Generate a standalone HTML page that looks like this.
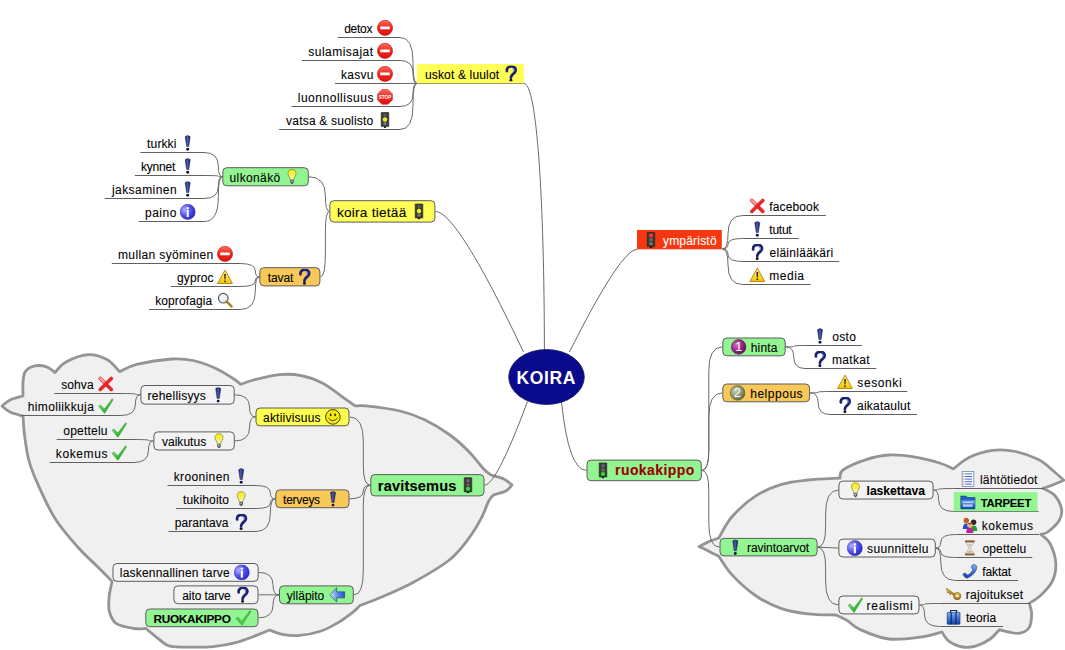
<!DOCTYPE html>
<html><head><meta charset="utf-8"><style>
html,body{margin:0;padding:0;background:#fff;width:1065px;height:650px;overflow:hidden}
svg{display:block;font-family:"Liberation Sans",sans-serif}
</style></head><body>
<svg width="1065" height="650" viewBox="0 0 1065 650">
<defs>
<linearGradient id="gRed" x1="0" y1="0" x2="0" y2="1"><stop offset="0" stop-color="#ff6a5a"/><stop offset="0.5" stop-color="#ec2a1e"/><stop offset="1" stop-color="#e01010"/></linearGradient>
<linearGradient id="gNavy" x1="0" y1="0" x2="1" y2="0"><stop offset="0" stop-color="#142060"/><stop offset="0.45" stop-color="#5060a8"/><stop offset="1" stop-color="#101850"/></linearGradient>
<radialGradient id="gInfo" cx="0.3" cy="0.35" r="0.8"><stop offset="0" stop-color="#b0b0ff"/><stop offset="0.5" stop-color="#5050f0"/><stop offset="1" stop-color="#2020c0"/></radialGradient>
<linearGradient id="gBulb" x1="0" y1="0" x2="0" y2="1"><stop offset="0" stop-color="#f8f000"/><stop offset="0.55" stop-color="#f8f060"/><stop offset="1" stop-color="#fff8c0"/></linearGradient>
<linearGradient id="gWarn" x1="0" y1="0" x2="0" y2="1"><stop offset="0" stop-color="#fff080"/><stop offset="1" stop-color="#f0c800"/></linearGradient>
<linearGradient id="gCheck" x1="0" y1="0" x2="1" y2="1"><stop offset="0" stop-color="#a0f0a0"/><stop offset="0.6" stop-color="#30c030"/><stop offset="1" stop-color="#109010"/></linearGradient>
<linearGradient id="gArrow" x1="0" y1="0" x2="1" y2="0"><stop offset="0" stop-color="#d0f0ff"/><stop offset="0.5" stop-color="#6090e0"/><stop offset="1" stop-color="#2050d0"/></linearGradient>
<radialGradient id="gNum1" cx="0.35" cy="0.35" r="0.75"><stop offset="0" stop-color="#d070c0"/><stop offset="0.6" stop-color="#902080"/><stop offset="1" stop-color="#601050"/></radialGradient>
<radialGradient id="gNum2" cx="0.35" cy="0.35" r="0.75"><stop offset="0" stop-color="#c8d0b8"/><stop offset="0.6" stop-color="#8a9070"/><stop offset="1" stop-color="#5a6048"/></radialGradient>
<linearGradient id="gBlue" x1="0" y1="0" x2="0" y2="1"><stop offset="0" stop-color="#80b0f0"/><stop offset="1" stop-color="#1040b0"/></linearGradient>
<linearGradient id="gGold" x1="0" y1="0" x2="0" y2="1"><stop offset="0" stop-color="#f0d060"/><stop offset="1" stop-color="#a07010"/></linearGradient>

<symbol id="noentry" viewBox="0 0 16 16"><circle cx="8" cy="8" r="7.6" fill="url(#gRed)" stroke="#c81810" stroke-width="0.6"/><rect x="3.2" y="6.6" width="9.6" height="2.8" rx="0.5" fill="#fff"/></symbol>
<symbol id="stop" viewBox="0 0 16 16"><polygon points="5,0.6 11,0.6 15.4,5 15.4,11 11,15.4 5,15.4 0.6,11 0.6,5" fill="url(#gRed)" stroke="#c01010" stroke-width="0.5"/><text x="8" y="9.8" font-family="Liberation Sans" font-weight="bold" font-size="4.6" fill="#fff" text-anchor="middle">STOP</text></symbol>
<symbol id="tlY" viewBox="0 0 16 16"><rect x="4.2" y="0.3" width="7.6" height="14.4" rx="0.6" fill="#3a3a38" stroke="#222" stroke-width="0.6"/><circle cx="8" cy="3.4" r="1.7" fill="#5a5a50"/><circle cx="8" cy="7.6" r="2.2" fill="#f0f020"/><circle cx="8" cy="11.6" r="1.7" fill="#7a7a70"/><rect x="7" y="14.6" width="2" height="1.4" fill="#111"/></symbol>
<symbol id="tlR" viewBox="0 0 16 16"><rect x="4.2" y="0.3" width="7.6" height="14.4" rx="0.6" fill="#3a3a38" stroke="#222" stroke-width="0.6"/><circle cx="8" cy="3.6" r="2.1" fill="#ff3030"/><circle cx="8" cy="7.6" r="1.7" fill="#6a6a60"/><circle cx="8" cy="11.6" r="1.7" fill="#7a7a70"/><rect x="7" y="14.6" width="2" height="1.4" fill="#111"/></symbol>
<symbol id="tlG" viewBox="0 0 16 16"><rect x="4.2" y="0.3" width="7.6" height="14.4" rx="0.6" fill="#3a3a38" stroke="#222" stroke-width="0.6"/><circle cx="8" cy="3.4" r="1.7" fill="#7a5a8a"/><circle cx="8" cy="7.6" r="1.7" fill="#6a6a60"/><circle cx="8" cy="11.6" r="2.1" fill="#30e030"/><rect x="7" y="14.6" width="2" height="1.4" fill="#111"/></symbol>
<symbol id="excl" viewBox="0 0 16 16"><path d="M5.5,1.8 Q8,-0.4 10.5,1.8 L9.1,11.6 L6.9,11.6 Z" fill="url(#gNavy)" stroke="#101c50" stroke-width="0.5"/><circle cx="8" cy="14.3" r="1.45" fill="#0c1444"/></symbol>
<symbol id="quest" viewBox="0 0 16 16"><path d="M3.9,5.6 C3.4,2.6 5.6,0.9 8.3,0.9 C11.3,0.9 12.9,2.7 12.7,4.9 C12.5,7.1 10.2,8.1 9,9.6 C8.3,10.5 8,11.3 7.9,12.2" fill="none" stroke="#1c2470" stroke-width="2.7" stroke-linecap="round"/><path d="M9.6,2.6 C11,3.2 11.4,4.6 10.6,6" fill="none" stroke="#6a7ad8" stroke-width="1.1" stroke-linecap="round"/><circle cx="7.9" cy="14.7" r="1.45" fill="#0c1030"/></symbol>
<symbol id="info" viewBox="0 0 16 16"><circle cx="8" cy="8" r="7.6" fill="url(#gInfo)" stroke="#3030a0" stroke-width="0.5"/><rect x="7" y="6.2" width="2.1" height="7" fill="#fff"/><circle cx="8.05" cy="4.2" r="1.2" fill="#fff"/></symbol>
<symbol id="bulb" viewBox="0 0 16 16"><path d="M8,0.8 C4.6,0.8 3.6,3.6 4.2,5.8 C4.8,7.8 6.2,9 6.3,11 L9.7,11 C9.8,9 11.2,7.8 11.8,5.8 C12.4,3.6 11.4,0.8 8,0.8 Z" fill="url(#gBulb)" stroke="#6a6a20" stroke-width="0.6"/><rect x="6.2" y="11.2" width="3.6" height="3" rx="0.5" fill="#505860"/><rect x="7.2" y="12" width="1.4" height="1.4" fill="#c8d0d8"/><rect x="7.2" y="14.2" width="1.6" height="0.9" fill="#303030"/></symbol>
<symbol id="warn" viewBox="0 0 16 16"><path d="M8,1.2 L15.4,14.6 L0.6,14.6 Z" fill="url(#gWarn)" stroke="#c07810" stroke-width="0.9" stroke-linejoin="round"/><path d="M7.2,5 L8.8,5 L8.5,10.6 L7.5,10.6 Z" fill="#2a2010"/><circle cx="8" cy="12.4" r="0.9" fill="#2a2010"/></symbol>
<symbol id="magn" viewBox="0 0 16 16"><circle cx="6.3" cy="6.3" r="4.8" fill="#f4f8f8" stroke="#505860" stroke-width="1.2"/><path d="M9.3,8.6 Q7.5,9.6 5.6,9" stroke="#a8c8b0" stroke-width="0.8" fill="none"/><line x1="9.8" y1="9.8" x2="14.6" y2="14.6" stroke="#b07820" stroke-width="2.4" stroke-linecap="round"/></symbol>
<symbol id="redx" viewBox="0 0 16 16"><path d="M2.5,2.5 L13.5,13.5 M13.5,2.5 L2.5,13.5" stroke="#e82828" stroke-width="3.6" stroke-linecap="round"/><path d="M2.5,2.5 L6,6" stroke="#f8a0a0" stroke-width="2.4" stroke-linecap="round"/></symbol>
<symbol id="check" viewBox="0 0 16 16"><path d="M0.8,8.4 L2.8,7 L6.6,11 L14.4,0.8 L15.4,1.8 L7,15.2 L6.4,15.2 Z" fill="url(#gCheck)" stroke="#208020" stroke-width="0.4"/></symbol>
<symbol id="smile" viewBox="0 0 16 16"><circle cx="8" cy="8" r="7.3" fill="#f4ec10" stroke="#4a3a00" stroke-width="1"/><ellipse cx="5.8" cy="6" rx="0.9" ry="1.4" fill="#3a2000"/><ellipse cx="10.2" cy="6" rx="0.9" ry="1.4" fill="#3a2000"/><path d="M3.6,9.2 Q8,14.4 12.4,9.2" stroke="#3a2a00" stroke-width="0.9" fill="none"/></symbol>
<symbol id="arrowL" viewBox="0 0 16 16"><path d="M0.6,8 L7.4,0.8 L7.4,5 L15.4,5 L15.4,11 L7.4,11 L7.4,15.2 Z" fill="url(#gArrow)" stroke="#205070" stroke-width="0.7" stroke-linejoin="round"/></symbol>
<symbol id="num1" viewBox="0 0 16 16"><circle cx="8" cy="8" r="7.3" fill="url(#gNum1)" stroke="#501048" stroke-width="0.6"/><text x="8" y="12.4" font-family="Liberation Sans" font-size="12.5" fill="#fff" text-anchor="middle">1</text></symbol>
<symbol id="num2" viewBox="0 0 16 16"><circle cx="8" cy="8" r="7.3" fill="url(#gNum2)" stroke="#484c38" stroke-width="0.6"/><text x="8" y="12.4" font-family="Liberation Sans" font-size="12.5" fill="#fff" text-anchor="middle">2</text></symbol>
<symbol id="listdoc" viewBox="0 0 16 16"><rect x="2.2" y="0.5" width="11.6" height="15" fill="#fff" stroke="#7890b8" stroke-width="0.9"/><g stroke="#3868d0" stroke-width="1"><line x1="5.2" y1="3" x2="12" y2="3"/><line x1="5.2" y1="5.6" x2="12" y2="5.6"/><line x1="5.2" y1="8.2" x2="12" y2="8.2"/><line x1="5.2" y1="10.8" x2="12" y2="10.8"/><line x1="5.2" y1="13.2" x2="12" y2="13.2"/></g><g fill="#d03030"><rect x="3.4" y="2.5" width="1" height="1"/><rect x="3.4" y="5.1" width="1" height="1"/><rect x="3.4" y="7.7" width="1" height="1"/><rect x="3.4" y="10.3" width="1" height="1"/><rect x="3.4" y="12.7" width="1" height="1"/></g></symbol>
<symbol id="folder" viewBox="0 0 16 16"><path d="M0.8,2.2 L6,2.2 L7.2,3.6 L15,3.6 L15,15 L0.8,15 Z" fill="#2860c0" stroke="#103880" stroke-width="0.6"/><path d="M1.4,6.5 L15.2,6.5 L14.6,14.6 L1.4,14.6 Z" fill="url(#gBlue)"/><path d="M3,8.4 L13,8.4" stroke="#d0e8ff" stroke-width="1"/><rect x="3" y="10.6" width="9.5" height="2.2" fill="#e0f0ff" opacity="0.8"/></symbol>
<symbol id="people" viewBox="0 0 16 16"><circle cx="4.5" cy="3.6" r="2.7" fill="#c06020"/><path d="M1,12 Q1,6.5 4.5,6.5 Q8,6.5 8,12 Z" fill="#2050d0"/><circle cx="11.8" cy="5.4" r="2.7" fill="#302828"/><path d="M8.4,14 Q8.4,8.6 11.8,8.6 Q15.4,8.6 15.4,14 Z" fill="#20a030"/><circle cx="8" cy="8.2" r="2.7" fill="#f0b080"/><path d="M4.4,16 Q4.4,10.8 8,10.8 Q11.6,10.8 11.6,16 Z" fill="#c020a0"/><path d="M5.4,7.4 Q8,4.2 10.6,7.4" fill="#c02020"/></symbol>
<symbol id="hourglass" viewBox="0 0 16 16"><rect x="3.2" y="0.5" width="9.6" height="2" fill="#8a5a20"/><rect x="3.2" y="13.5" width="9.6" height="2" fill="#8a5a20"/><path d="M4.4,2.5 L11.6,2.5 L11.6,3.4 L8.6,8 L11.6,12.6 L11.6,13.5 L4.4,13.5 L4.4,12.6 L7.4,8 L4.4,3.4 Z" fill="#e8ecf0" stroke="#808890" stroke-width="0.5"/><path d="M5.4,12.8 L10.6,12.8 L8,10.2 Z" fill="#d8b060"/><path d="M6.2,4.4 L9.8,4.4 L8,6.8 Z" fill="#d8b060"/></symbol>
<symbol id="phone" viewBox="0 0 16 16"><path d="M1.2,12.2 Q0.8,10.2 3.2,10 L6,12.2 Q9.6,10.4 11,6.8 L9.4,4.2 Q10,1.6 12.4,1.4 L15.2,3.6 Q14.6,10.8 5.8,15.2 Q3.2,15.6 1.2,12.2 Z" fill="url(#gBlue)" stroke="#0a3080" stroke-width="0.5"/></symbol>
<symbol id="key" viewBox="0 0 16 16"><circle cx="11.6" cy="10.2" r="3.6" fill="url(#gGold)" stroke="#7a5008" stroke-width="0.7"/><circle cx="11.6" cy="10.2" r="1.3" fill="#f0f0f0"/><path d="M1,2.2 L9,8 L8,9.4 L5.6,7.6 L4.8,8.8 L3.6,7.8 L4.4,6.8 L3.4,6.1 L2.6,7.1 L1.4,6.2 L2.2,5.2 L0.2,3.6 Z" fill="url(#gGold)" stroke="#7a5008" stroke-width="0.5"/></symbol>
<symbol id="brief" viewBox="0 0 16 16"><path d="M5,3.4 L5,1.6 L11,1.6 L11,3.4" stroke="#102a60" stroke-width="1.2" fill="none"/><rect x="1.6" y="3.4" width="12.8" height="12" rx="0.8" fill="url(#gBlue)" stroke="#0c2a6a" stroke-width="0.6"/><rect x="5" y="3.4" width="1.2" height="12" fill="#0c2a6a"/><rect x="9.8" y="3.4" width="1.2" height="12" fill="#0c2a6a"/></symbol>
<symbol id="check2" viewBox="0 0 16 16"><path d="M0.8,8.6 L2.6,7.4 L6.4,11.6 L14.8,0.6 L15.6,1.4 L6.8,15.4 Z" fill="#50d050" stroke="#208a20" stroke-width="0.5"/></symbol></defs>
<path d="M2.00,406.00 C3.33,405.00 6.50,401.67 10.00,400.00 C13.50,398.33 20.83,396.67 23.00,396.00 C23.00,393.67 22.67,386.00 23.00,382.00 C23.33,378.00 23.67,374.50 25.00,372.00 C26.33,369.50 28.50,368.08 31.00,367.00 C33.50,365.92 37.17,365.42 40.00,365.50 C42.83,365.58 45.50,366.33 48.00,367.50 C50.50,368.67 53.83,371.67 55.00,372.50 C56.83,370.75 60.50,364.98 66.00,362.00 C71.50,359.02 81.17,355.02 88.00,354.60 C94.83,354.18 101.73,356.65 107.00,359.50 C112.27,362.35 117.50,369.67 119.60,371.70 C122.45,370.48 128.03,366.52 136.70,364.40 C145.37,362.28 162.18,359.65 171.60,359.00 C181.02,358.35 186.00,359.00 193.20,360.50 C200.40,362.00 208.33,365.12 214.80,368.00 C221.27,370.88 227.68,375.08 232.00,377.80 C236.32,380.52 239.25,383.22 240.70,384.30 C242.87,383.58 247.22,381.62 253.70,380.00 C260.18,378.38 271.68,375.33 279.60,374.60 C287.52,373.87 294.00,374.17 301.20,375.60 C308.40,377.03 315.60,379.42 322.80,383.20 C330.00,386.98 339.00,394.52 344.40,398.30 C349.80,402.08 353.40,404.63 355.20,405.90 C357.00,405.90 358.53,405.05 366.00,405.90 C373.47,406.75 390.23,408.70 400.00,411.00 C409.77,413.30 416.38,415.78 424.60,419.70 C432.82,423.62 441.90,429.17 449.30,434.50 C456.70,439.83 463.27,445.95 469.00,451.70 C474.73,457.45 480.03,465.12 483.70,469.00 C487.37,472.88 489.78,474.00 491.00,475.00 C493.07,475.63 499.90,477.13 503.40,478.80 C506.90,480.47 510.57,483.97 512.00,485.00 C511.00,486.00 509.07,489.37 506.00,491.00 C502.93,492.63 495.67,494.17 493.60,494.80 C492.78,495.83 490.75,497.10 488.70,501.00 C486.65,504.90 484.58,512.03 481.30,518.20 C478.02,524.37 474.33,531.03 469.00,538.00 C463.67,544.97 458.55,552.63 449.30,560.00 C440.05,567.37 424.78,576.03 413.50,582.20 C402.22,588.37 390.52,593.12 381.60,597.00 C372.68,600.88 363.60,604.08 360.00,605.50 C358.93,606.52 357.18,608.78 353.60,611.60 C350.02,614.42 343.90,619.17 338.50,622.40 C333.10,625.63 327.68,628.83 321.20,631.00 C314.72,633.17 306.08,634.85 299.60,635.40 C293.12,635.95 287.33,635.20 282.30,634.30 C277.27,633.40 271.55,630.72 269.40,630.00 C267.23,630.90 262.17,633.25 256.40,635.40 C250.63,637.55 242.00,641.03 234.80,642.90 C227.60,644.77 220.40,645.88 213.20,646.60 C206.00,647.32 198.80,647.27 191.60,647.20 C184.40,647.13 175.27,647.40 170.00,646.20 C164.73,645.00 164.00,642.95 160.00,640.00 C156.00,637.05 148.33,630.42 146.00,628.50 C144.00,628.50 138.93,629.32 134.00,628.50 C129.07,627.68 120.48,626.35 116.40,623.60 C112.32,620.85 110.73,616.27 109.50,612.00 C108.27,607.73 108.58,603.12 109.00,598.00 C109.42,592.88 111.50,584.08 112.00,581.30 C109.82,579.08 104.50,573.60 98.90,568.00 C93.30,562.40 85.72,555.97 78.40,547.70 C71.08,539.43 61.82,529.12 55.00,518.40 C48.18,507.68 41.87,493.13 37.50,483.40 C33.13,473.67 30.97,468.07 28.80,460.00 C26.63,451.93 25.47,442.33 24.50,435.00 C23.53,427.67 23.25,419.17 23.00,416.00 C20.83,415.33 13.50,413.67 10.00,412.00 C6.50,410.33 3.33,407.00 2.00,406.00 Z" fill="#f0f0f0" stroke="#949494" stroke-width="2.8" stroke-linejoin="round"/>
<path d="M699.00,546.50 C700.55,545.73 705.00,543.32 708.30,541.90 C711.60,540.48 717.05,538.65 718.80,538.00 C720.97,534.50 725.70,523.97 731.80,517.00 C737.90,510.03 747.12,501.63 755.40,496.20 C763.68,490.77 772.78,487.10 781.50,484.40 C790.22,481.70 797.95,481.07 807.70,480.00 C817.45,478.93 834.62,478.33 840.00,478.00 C840.50,476.67 838.67,473.07 843.00,470.00 C847.33,466.93 858.33,462.10 866.00,459.60 C873.67,457.10 880.57,455.38 889.00,455.00 C897.43,454.62 908.17,455.97 916.60,457.30 C925.03,458.63 933.47,461.08 939.60,463.00 C945.73,464.92 951.10,467.83 953.40,468.80 C956.08,466.88 962.98,460.37 969.50,457.30 C976.02,454.23 984.83,451.37 992.50,450.40 C1000.17,449.43 1007.83,449.97 1015.50,451.50 C1023.17,453.03 1032.37,456.52 1038.50,459.60 C1044.63,462.68 1048.08,466.55 1052.30,470.00 C1056.52,473.45 1061.88,478.58 1063.80,480.30 C1061.50,481.25 1053.47,484.67 1050.00,486.00 C1046.53,487.33 1044.17,487.92 1043.00,488.30 C1044.93,489.45 1051.52,491.75 1054.60,495.20 C1057.68,498.65 1060.73,504.78 1061.50,509.00 C1062.27,513.22 1061.50,516.67 1059.20,520.50 C1056.90,524.33 1050.77,529.70 1047.70,532.00 C1044.63,534.30 1041.95,533.92 1040.80,534.30 C1042.33,535.83 1047.50,538.72 1050.00,543.50 C1052.50,548.28 1055.42,556.68 1055.80,563.00 C1056.18,569.32 1054.80,576.03 1052.30,581.40 C1049.80,586.77 1044.63,591.55 1040.80,595.20 C1036.97,598.85 1031.22,601.95 1029.30,603.30 C1029.68,605.02 1031.60,609.58 1031.60,613.60 C1031.60,617.62 1031.23,624.13 1029.30,627.40 C1027.37,630.67 1023.45,632.43 1020.00,633.20 C1016.55,633.97 1012.03,632.58 1008.60,632.00 C1005.17,631.42 1000.93,630.08 999.40,629.70 C997.87,631.25 994.03,636.32 990.20,639.00 C986.37,641.68 981.00,644.47 976.40,645.80 C971.80,647.13 967.20,647.77 962.60,647.00 C958.00,646.23 952.23,643.70 948.80,641.20 C945.37,638.70 943.13,633.53 942.00,632.00 C938.92,632.77 932.33,635.43 923.50,636.60 C914.67,637.77 899.58,640.18 889.00,639.00 C878.42,637.82 867.00,632.60 860.00,629.50 C853.00,626.40 851.00,622.82 847.00,620.40 C843.00,617.98 837.83,615.90 836.00,615.00 C831.28,614.80 816.78,614.87 807.70,613.80 C798.62,612.73 790.22,611.65 781.50,608.60 C772.78,605.55 763.68,601.17 755.40,595.50 C747.12,589.83 737.90,581.13 731.80,574.60 C725.70,568.07 720.97,559.35 718.80,556.30 C717.05,555.42 711.60,552.63 708.30,551.00 C705.00,549.37 700.55,547.25 699.00,546.50 Z" fill="#f0f0f0" stroke="#949494" stroke-width="2.8" stroke-linejoin="round"/>
<path d="M417.00,83.50 H524.00" stroke="#606060" fill="none"/>
<path d="M337.70,37.50 H400.00" stroke="#606060" fill="none"/>
<path d="M417.00,83.40 Q413.00,83.40 413.00,63.40 L413.00,61.50 Q413.00,37.50 400.00,37.50" stroke="#6a6a6a" fill="none"/>
<path d="M301.70,60.50 H400.00" stroke="#606060" fill="none"/>
<path d="M417.00,83.40 Q413.00,83.40 413.00,73.09 L413.00,73.09 Q413.00,60.50 400.00,60.50" stroke="#6a6a6a" fill="none"/>
<path d="M334.90,83.50 H400.00" stroke="#606060" fill="none"/>
<path d="M417.00,83.40 L400.00,83.50" stroke="#6a6a6a" fill="none"/>
<path d="M291.50,106.50 H400.00" stroke="#606060" fill="none"/>
<path d="M417.00,83.40 Q413.00,83.40 413.00,93.80 L413.00,93.80 Q413.00,106.50 400.00,106.50" stroke="#6a6a6a" fill="none"/>
<path d="M279.10,129.50 H400.00" stroke="#606060" fill="none"/>
<path d="M417.00,83.40 Q413.00,83.40 413.00,103.40 L413.00,105.50 Q413.00,129.50 400.00,129.50" stroke="#6a6a6a" fill="none"/>
<path d="M329.40,211.40 Q325.40,211.40 325.40,195.81 L325.40,195.81 Q325.40,176.75 308.80,176.75" stroke="#6a6a6a" fill="none"/>
<path d="M329.40,211.40 Q325.40,211.40 325.40,231.40 L325.40,252.80 Q325.40,276.80 320.40,276.80" stroke="#6a6a6a" fill="none"/>
<path d="M140.30,152.50 H204.00" stroke="#606060" fill="none"/>
<path d="M222.30,176.75 Q218.30,176.75 218.30,165.84 L218.30,165.84 Q218.30,152.50 204.00,152.50" stroke="#6a6a6a" fill="none"/>
<path d="M134.80,175.50 H204.00" stroke="#606060" fill="none"/>
<path d="M222.30,176.75 Q218.30,176.75 218.30,176.19 L218.30,176.19 Q218.30,175.50 204.00,175.50" stroke="#6a6a6a" fill="none"/>
<path d="M104.60,198.50 H204.00" stroke="#606060" fill="none"/>
<path d="M222.30,176.75 Q218.30,176.75 218.30,186.54 L218.30,186.54 Q218.30,198.50 204.00,198.50" stroke="#6a6a6a" fill="none"/>
<path d="M138.70,221.50 H204.00" stroke="#606060" fill="none"/>
<path d="M222.30,176.75 Q218.30,176.75 218.30,196.75 L218.30,197.50 Q218.30,221.50 204.00,221.50" stroke="#6a6a6a" fill="none"/>
<path d="M111.80,263.50 H240.00" stroke="#606060" fill="none"/>
<path d="M259.30,276.80 Q255.30,276.80 255.30,270.81 L255.30,270.81 Q255.30,263.50 240.00,263.50" stroke="#6a6a6a" fill="none"/>
<path d="M170.60,286.50 H240.00" stroke="#606060" fill="none"/>
<path d="M259.30,276.80 Q255.30,276.80 255.30,281.16 L255.30,281.16 Q255.30,286.50 240.00,286.50" stroke="#6a6a6a" fill="none"/>
<path d="M149.00,309.50 H240.00" stroke="#606060" fill="none"/>
<path d="M259.30,276.80 Q255.30,276.80 255.30,291.51 L255.30,291.51 Q255.30,309.50 240.00,309.50" stroke="#6a6a6a" fill="none"/>
<path d="M742.50,215.50 H825.80" stroke="#606060" fill="none"/>
<path d="M722.50,249.00 Q728.00,249.00 728.00,233.93 L728.00,233.93 Q728.00,215.50 742.50,215.50" stroke="#6a6a6a" fill="none"/>
<path d="M742.50,238.50 H798.80" stroke="#606060" fill="none"/>
<path d="M722.50,249.00 Q728.00,249.00 728.00,244.28 L728.00,244.28 Q728.00,238.50 742.50,238.50" stroke="#6a6a6a" fill="none"/>
<path d="M742.50,261.50 H839.20" stroke="#606060" fill="none"/>
<path d="M722.50,249.00 Q728.00,249.00 728.00,254.62 L728.00,254.62 Q728.00,261.50 742.50,261.50" stroke="#6a6a6a" fill="none"/>
<path d="M742.50,284.50 H810.60" stroke="#606060" fill="none"/>
<path d="M722.50,249.00 Q728.00,249.00 728.00,264.98 L728.00,264.98 Q728.00,284.50 742.50,284.50" stroke="#6a6a6a" fill="none"/>
<path d="M701.80,470.40 Q708.80,470.40 708.80,450.40 L708.80,370.90 Q708.80,346.90 722.30,346.90" stroke="#6a6a6a" fill="none"/>
<path d="M701.80,470.40 Q708.80,470.40 708.80,450.40 L708.80,416.90 Q708.80,392.90 722.30,392.90" stroke="#6a6a6a" fill="none"/>
<path d="M701.80,470.40 Q708.80,470.40 708.80,490.40 L708.80,523.15 Q708.80,547.15 719.50,547.15" stroke="#6a6a6a" fill="none"/>
<path d="M805.00,345.50 H862.20" stroke="#606060" fill="none"/>
<path d="M785.70,346.90 Q793.70,346.90 793.70,346.27 L793.70,346.27 Q793.70,345.50 805.00,345.50" stroke="#6a6a6a" fill="none"/>
<path d="M805.00,368.50 H876.30" stroke="#606060" fill="none"/>
<path d="M785.70,346.90 Q793.70,346.90 793.70,356.62 L793.70,356.62 Q793.70,368.50 805.00,368.50" stroke="#6a6a6a" fill="none"/>
<path d="M830.00,391.50 H907.30" stroke="#606060" fill="none"/>
<path d="M810.10,392.90 Q818.10,392.90 818.10,392.27 L818.10,392.27 Q818.10,391.50 830.00,391.50" stroke="#6a6a6a" fill="none"/>
<path d="M830.00,414.50 H917.00" stroke="#606060" fill="none"/>
<path d="M810.10,392.90 Q818.10,392.90 818.10,402.62 L818.10,402.62 Q818.10,414.50 830.00,414.50" stroke="#6a6a6a" fill="none"/>
<path d="M817.60,547.15 Q825.60,547.15 825.60,527.15 L825.60,514.05 Q825.60,490.05 838.40,490.05" stroke="#6a6a6a" fill="none"/>
<path d="M817.60,547.15 L838.40,548.05" stroke="#6a6a6a" fill="none"/>
<path d="M817.60,547.15 Q825.60,547.15 825.60,567.15 L825.60,580.95 Q825.60,604.95 838.40,604.95" stroke="#6a6a6a" fill="none"/>
<path d="M953.70,488.50 H1044.10" stroke="#606060" fill="none"/>
<path d="M933.60,490.05 Q938.60,490.05 938.60,489.35 L938.60,489.35 Q938.60,488.50 953.70,488.50" stroke="#6a6a6a" fill="none"/>
<path d="M953.70,511.50 H1038.50" stroke="#606060" fill="none"/>
<path d="M933.60,490.05 Q938.60,490.05 938.60,499.70 L938.60,499.70 Q938.60,511.50 953.70,511.50" stroke="#6a6a6a" fill="none"/>
<path d="M955.50,534.50 H1039.10" stroke="#606060" fill="none"/>
<path d="M935.80,548.05 Q940.80,548.05 940.80,541.95 L940.80,541.95 Q940.80,534.50 955.50,534.50" stroke="#6a6a6a" fill="none"/>
<path d="M955.50,557.50 H1032.30" stroke="#606060" fill="none"/>
<path d="M935.80,548.05 Q940.80,548.05 940.80,552.30 L940.80,552.30 Q940.80,557.50 955.50,557.50" stroke="#6a6a6a" fill="none"/>
<path d="M955.50,580.50 H1018.10" stroke="#606060" fill="none"/>
<path d="M935.80,548.05 Q940.80,548.05 940.80,562.65 L940.80,562.65 Q940.80,580.50 955.50,580.50" stroke="#6a6a6a" fill="none"/>
<path d="M939.50,603.50 H1029.80" stroke="#606060" fill="none"/>
<path d="M919.50,604.95 Q924.50,604.95 924.50,604.30 L924.50,604.30 Q924.50,603.50 939.50,603.50" stroke="#6a6a6a" fill="none"/>
<path d="M939.50,626.50 H1003.10" stroke="#606060" fill="none"/>
<path d="M919.50,604.95 Q924.50,604.95 924.50,614.65 L924.50,614.65 Q924.50,626.50 939.50,626.50" stroke="#6a6a6a" fill="none"/>
<path d="M370.30,485.25 Q363.30,485.25 363.30,465.25 L363.30,440.90 Q363.30,416.90 349.50,416.90" stroke="#6a6a6a" fill="none"/>
<path d="M370.30,485.25 Q363.30,485.25 363.30,491.35 L363.30,491.35 Q363.30,498.80 349.50,498.80" stroke="#6a6a6a" fill="none"/>
<path d="M370.30,485.25 Q363.30,485.25 363.30,505.25 L363.30,570.85 Q363.30,594.85 353.80,594.85" stroke="#6a6a6a" fill="none"/>
<path d="M255.50,416.90 Q249.50,416.90 249.50,406.95 L249.50,406.95 Q249.50,394.80 234.70,394.80" stroke="#6a6a6a" fill="none"/>
<path d="M255.50,416.90 Q249.50,416.90 249.50,427.72 L249.50,427.72 Q249.50,440.95 234.80,440.95" stroke="#6a6a6a" fill="none"/>
<path d="M54.50,393.50 H121.00" stroke="#606060" fill="none"/>
<path d="M140.40,394.80 Q135.40,394.80 135.40,394.22 L135.40,394.22 Q135.40,393.50 121.00,393.50" stroke="#6a6a6a" fill="none"/>
<path d="M21.50,415.50 H121.00" stroke="#606060" fill="none"/>
<path d="M140.40,394.80 Q135.40,394.80 135.40,404.12 L135.40,404.12 Q135.40,415.50 121.00,415.50" stroke="#6a6a6a" fill="none"/>
<path d="M56.80,439.50 H134.00" stroke="#606060" fill="none"/>
<path d="M153.40,440.95 Q148.40,440.95 148.40,440.30 L148.40,440.30 Q148.40,439.50 134.00,439.50" stroke="#6a6a6a" fill="none"/>
<path d="M49.60,462.50 H134.00" stroke="#606060" fill="none"/>
<path d="M153.40,440.95 Q148.40,440.95 148.40,450.65 L148.40,450.65 Q148.40,462.50 134.00,462.50" stroke="#6a6a6a" fill="none"/>
<path d="M167.50,485.50 H256.00" stroke="#606060" fill="none"/>
<path d="M275.30,498.80 Q270.30,498.80 270.30,492.81 L270.30,492.81 Q270.30,485.50 256.00,485.50" stroke="#6a6a6a" fill="none"/>
<path d="M176.10,508.50 H256.00" stroke="#606060" fill="none"/>
<path d="M275.30,498.80 Q270.30,498.80 270.30,503.16 L270.30,503.16 Q270.30,508.50 256.00,508.50" stroke="#6a6a6a" fill="none"/>
<path d="M168.60,531.50 H256.00" stroke="#606060" fill="none"/>
<path d="M275.30,498.80 Q270.30,498.80 270.30,513.51 L270.30,513.51 Q270.30,531.50 256.00,531.50" stroke="#6a6a6a" fill="none"/>
<path d="M279.00,594.85 Q273.00,594.85 273.00,584.75 L273.00,584.75 Q273.00,572.40 258.70,572.40" stroke="#6a6a6a" fill="none"/>
<path d="M279.00,594.85 L258.50,594.80" stroke="#6a6a6a" fill="none"/>
<path d="M279.00,594.85 Q273.00,594.85 273.00,605.20 L273.00,605.20 Q273.00,617.85 258.50,617.85" stroke="#6a6a6a" fill="none"/>
<path d="M524,83.5 C537,83.5 544.2,200 544.4,350" stroke="#6a6a6a" stroke-width="1" fill="none"/>
<path d="M435.4,211.45 Q457,211.45 523.5,352" stroke="#6a6a6a" stroke-width="1" fill="none"/>
<path d="M637.5,249 Q621,249 569.4,352" stroke="#6a6a6a" stroke-width="1" fill="none"/>
<path d="M484.5,485.25 Q496.4,485.25 527.5,401.5" stroke="#6a6a6a" stroke-width="1" fill="none"/>
<path d="M586.5,470.4 Q568.7,470.4 561.5,402" stroke="#6a6a6a" stroke-width="1" fill="none"/>
<rect x="417.00" y="64.00" width="107.00" height="19.40" fill="#ffff58"/>
<rect x="329.90" y="200.70" width="105.00" height="21.40" rx="4" fill="#ffff58" stroke="#5c5c5c"/>
<rect x="222.80" y="167.70" width="85.50" height="18.10" rx="4" fill="#92f592" stroke="#5c5c5c"/>
<rect x="259.80" y="267.70" width="60.10" height="18.20" rx="4" fill="#f8c858" stroke="#5c5c5c"/>
<rect x="637.00" y="230.00" width="84.80" height="19.30" fill="#f5380f"/>
<rect x="587.00" y="460.10" width="114.30" height="20.60" rx="4" fill="#92f592" stroke="#5c5c5c"/>
<rect x="722.80" y="338.00" width="62.40" height="17.80" rx="4" fill="#92f592" stroke="#5c5c5c"/>
<rect x="722.80" y="384.00" width="86.80" height="17.80" rx="4" fill="#f8c858" stroke="#5c5c5c"/>
<rect x="720.00" y="538.40" width="97.10" height="17.50" rx="4" fill="#92f592" stroke="#5c5c5c"/>
<rect x="838.90" y="481.10" width="94.20" height="17.90" rx="4" fill="#f3f3f3" stroke="#5c5c5c"/>
<rect x="838.90" y="539.10" width="96.40" height="17.90" rx="4" fill="#f3f3f3" stroke="#5c5c5c"/>
<rect x="838.90" y="596.00" width="80.10" height="17.90" rx="4" fill="#f3f3f3" stroke="#5c5c5c"/>
<rect x="953.70" y="492.10" width="83.80" height="19.20" fill="#92f592"/>
<rect x="370.80" y="474.60" width="113.20" height="21.30" rx="4" fill="#92f592" stroke="#5c5c5c"/>
<rect x="256.00" y="408.00" width="93.00" height="17.80" rx="4" fill="#ffff50" stroke="#5c5c5c"/>
<rect x="275.80" y="489.90" width="73.20" height="17.80" rx="4" fill="#f8c858" stroke="#5c5c5c"/>
<rect x="279.50" y="585.90" width="73.80" height="17.90" rx="4" fill="#92f592" stroke="#5c5c5c"/>
<rect x="140.90" y="385.50" width="93.30" height="18.60" rx="4" fill="#f3f3f3" stroke="#5c5c5c"/>
<rect x="153.90" y="431.90" width="80.40" height="18.10" rx="4" fill="#f3f3f3" stroke="#5c5c5c"/>
<rect x="113.00" y="563.50" width="145.20" height="17.80" rx="4" fill="#f3f3f3" stroke="#5c5c5c"/>
<rect x="173.90" y="585.90" width="84.10" height="17.80" rx="4" fill="#f3f3f3" stroke="#5c5c5c"/>
<rect x="145.80" y="609.00" width="112.20" height="17.70" rx="4" fill="#92f592" stroke="#5c5c5c"/>
<use href="#quest" x="503.00" y="65.50" width="16" height="16"/>
<use href="#noentry" x="377.00" y="19.90" width="16" height="16"/>
<use href="#noentry" x="377.00" y="42.90" width="16" height="16"/>
<use href="#noentry" x="377.00" y="65.90" width="16" height="16"/>
<use href="#stop" x="377.00" y="88.90" width="16" height="16"/>
<use href="#tlY" x="377.00" y="111.90" width="16" height="16"/>
<use href="#tlY" x="411.00" y="203.40" width="16" height="16"/>
<use href="#bulb" x="284.00" y="168.75" width="16" height="16"/>
<use href="#quest" x="296.50" y="268.80" width="16" height="16"/>
<use href="#excl" x="179.70" y="134.90" width="16" height="16"/>
<use href="#excl" x="179.70" y="157.90" width="16" height="16"/>
<use href="#excl" x="179.70" y="180.90" width="16" height="16"/>
<use href="#info" x="179.70" y="203.90" width="16" height="16"/>
<use href="#noentry" x="217.00" y="245.90" width="16" height="16"/>
<use href="#warn" x="217.00" y="268.90" width="16" height="16"/>
<use href="#magn" x="217.00" y="291.90" width="16" height="16"/>
<use href="#tlR" x="643.00" y="232.00" width="16" height="16"/>
<use href="#redx" x="749.30" y="197.90" width="16" height="16"/>
<use href="#excl" x="749.30" y="220.90" width="16" height="16"/>
<use href="#quest" x="749.30" y="243.90" width="16" height="16"/>
<use href="#warn" x="749.30" y="266.90" width="16" height="16"/>
<use href="#tlG" x="595.00" y="462.40" width="16" height="16"/>
<use href="#num1" x="730.70" y="338.90" width="16" height="16"/>
<use href="#num2" x="729.60" y="384.90" width="16" height="16"/>
<use href="#excl" x="727.30" y="539.15" width="16" height="16"/>
<use href="#excl" x="812.00" y="327.90" width="16" height="16"/>
<use href="#quest" x="812.00" y="350.90" width="16" height="16"/>
<use href="#warn" x="837.00" y="373.90" width="16" height="16"/>
<use href="#quest" x="837.00" y="396.90" width="16" height="16"/>
<use href="#bulb" x="847.50" y="482.05" width="16" height="16"/>
<use href="#info" x="846.80" y="540.05" width="16" height="16"/>
<use href="#check" x="847.30" y="596.95" width="16" height="16"/>
<use href="#listdoc" x="960.00" y="470.90" width="16" height="16"/>
<use href="#folder" x="960.00" y="493.90" width="16" height="16"/>
<use href="#people" x="961.80" y="516.90" width="16" height="16"/>
<use href="#hourglass" x="961.80" y="539.90" width="16" height="16"/>
<use href="#phone" x="961.80" y="562.90" width="16" height="16"/>
<use href="#key" x="945.60" y="585.90" width="16" height="16"/>
<use href="#brief" x="945.60" y="608.90" width="16" height="16"/>
<use href="#tlG" x="460.00" y="477.25" width="16" height="16"/>
<use href="#smile" x="324.90" y="408.90" width="16" height="16"/>
<use href="#excl" x="325.00" y="490.80" width="16" height="16"/>
<use href="#arrowL" x="329.30" y="586.85" width="16" height="16"/>
<use href="#excl" x="210.20" y="386.80" width="16" height="16"/>
<use href="#bulb" x="211.00" y="432.95" width="16" height="16"/>
<use href="#redx" x="97.80" y="375.90" width="16" height="16"/>
<use href="#check" x="97.80" y="397.90" width="16" height="16"/>
<use href="#check" x="111.20" y="421.90" width="16" height="16"/>
<use href="#check" x="111.20" y="444.90" width="16" height="16"/>
<use href="#excl" x="233.20" y="467.90" width="16" height="16"/>
<use href="#bulb" x="233.20" y="490.90" width="16" height="16"/>
<use href="#quest" x="233.20" y="513.90" width="16" height="16"/>
<use href="#info" x="233.80" y="564.40" width="16" height="16"/>
<use href="#quest" x="234.70" y="586.80" width="16" height="16"/>
<use href="#check2" x="235.30" y="609.85" width="16" height="16"/>
<text x="424.92" y="78.90" font-size="12" textLength="74.22" lengthAdjust="spacing" stroke="#161616" stroke-width="0.1">uskot &amp; luulot</text>
<text x="344.20" y="32.80" font-size="12" textLength="28.20" lengthAdjust="spacing" stroke="#161616" stroke-width="0.1">detox</text>
<text x="308.37" y="55.80" font-size="12" textLength="64.64" lengthAdjust="spacing" stroke="#161616" stroke-width="0.1">sulamisajat</text>
<text x="341.09" y="78.80" font-size="12" textLength="32.42" lengthAdjust="spacing" stroke="#161616" stroke-width="0.1">kasvu</text>
<text x="297.69" y="101.80" font-size="12" textLength="75.73" lengthAdjust="spacing" stroke="#161616" stroke-width="0.1">luonnollisuus</text>
<text x="286.06" y="124.80" font-size="12" textLength="87.14" lengthAdjust="spacing" stroke="#161616" stroke-width="0.1">vatsa &amp; suolisto</text>
<text x="336.88" y="216.60" font-size="13.6" textLength="69.35" lengthAdjust="spacing" stroke="#161616" stroke-width="0.1">koira tietää</text>
<text x="229.52" y="181.55" font-size="12" textLength="50.72" lengthAdjust="spacing" stroke="#161616" stroke-width="0.1">ulkonäkö</text>
<text x="267.72" y="281.60" font-size="12" textLength="25.71" lengthAdjust="spacing" stroke="#161616" stroke-width="0.1">tavat</text>
<text x="147.12" y="147.80" font-size="12" textLength="29.29" lengthAdjust="spacing" stroke="#161616" stroke-width="0.1">turkki</text>
<text x="140.99" y="170.80" font-size="12" textLength="34.44" lengthAdjust="spacing" stroke="#161616" stroke-width="0.1">kynnet</text>
<text x="111.89" y="193.80" font-size="12" textLength="64.80" lengthAdjust="spacing" stroke="#161616" stroke-width="0.1">jaksaminen</text>
<text x="144.93" y="216.80" font-size="12" textLength="31.51" lengthAdjust="spacing" stroke="#161616" stroke-width="0.1">paino</text>
<text x="118.00" y="258.80" font-size="12" textLength="95.22" lengthAdjust="spacing" stroke="#161616" stroke-width="0.1">mullan syöminen</text>
<text x="177.10" y="281.80" font-size="12" textLength="36.38" lengthAdjust="spacing" stroke="#161616" stroke-width="0.1">gyproc</text>
<text x="155.19" y="304.80" font-size="12" textLength="57.01" lengthAdjust="spacing" stroke="#161616" stroke-width="0.1">koprofagia</text>
<text x="662.97" y="245.00" font-size="12" fill="#ffffff" textLength="53.61" lengthAdjust="spacing" stroke="#ffffff" stroke-width="0.1">ympäristö</text>
<text x="769.33" y="210.80" font-size="12" textLength="49.56" lengthAdjust="spacing" stroke="#161616" stroke-width="0.1">facebook</text>
<text x="769.32" y="233.80" font-size="12" textLength="22.37" lengthAdjust="spacing" stroke="#161616" stroke-width="0.1">tutut</text>
<text x="769.49" y="256.80" font-size="12" textLength="63.77" lengthAdjust="spacing" stroke="#161616" stroke-width="0.1">eläinlääkäri</text>
<text x="769.20" y="279.80" font-size="12" textLength="34.83" lengthAdjust="spacing" stroke="#161616" stroke-width="0.1">media</text>
<text x="615.08" y="475.10" font-size="14" font-weight="bold" fill="#9a0000" textLength="79.14" lengthAdjust="spacing" stroke="#9a0000" stroke-width="0.1">ruokakippo</text>
<text x="750.67" y="351.70" font-size="12" textLength="26.78" lengthAdjust="spacing" stroke="#161616" stroke-width="0.1">hinta</text>
<text x="750.17" y="397.70" font-size="12" textLength="52.43" lengthAdjust="spacing" stroke="#161616" stroke-width="0.1">helppous</text>
<text x="747.00" y="551.95" font-size="12" textLength="62.14" lengthAdjust="spacing" stroke="#161616" stroke-width="0.1">ravintoarvot</text>
<text x="832.20" y="340.80" font-size="12" textLength="23.78" lengthAdjust="spacing" stroke="#161616" stroke-width="0.1">osto</text>
<text x="831.90" y="363.80" font-size="12" textLength="37.78" lengthAdjust="spacing" stroke="#161616" stroke-width="0.1">matkat</text>
<text x="857.27" y="386.80" font-size="12" textLength="44.37" lengthAdjust="spacing" stroke="#161616" stroke-width="0.1">sesonki</text>
<text x="857.09" y="409.80" font-size="12" textLength="53.18" lengthAdjust="spacing" stroke="#161616" stroke-width="0.1">aikataulut</text>
<text x="866.55" y="494.93" font-size="12.2" font-weight="bold" textLength="58.41" lengthAdjust="spacing" stroke="#161616" stroke-width="0.1">laskettava</text>
<text x="867.07" y="552.85" font-size="12" textLength="61.44" lengthAdjust="spacing" stroke="#161616" stroke-width="0.1">suunnittelu</text>
<text x="866.60" y="609.75" font-size="12" textLength="46.10" lengthAdjust="spacing" stroke="#161616" stroke-width="0.1">realismi</text>
<text x="979.99" y="483.80" font-size="12" textLength="57.38" lengthAdjust="spacing" stroke="#161616" stroke-width="0.1">lähtötiedot</text>
<text x="980.67" y="506.80" font-size="11.3" font-weight="bold" textLength="50.65" lengthAdjust="spacing" stroke="#161616" stroke-width="0.1">TARPEET</text>
<text x="981.69" y="529.80" font-size="12" textLength="51.31" lengthAdjust="spacing" stroke="#161616" stroke-width="0.1">kokemus</text>
<text x="982.40" y="552.80" font-size="12" textLength="43.84" lengthAdjust="spacing" stroke="#161616" stroke-width="0.1">opettelu</text>
<text x="982.13" y="575.80" font-size="12" textLength="29.00" lengthAdjust="spacing" stroke="#161616" stroke-width="0.1">faktat</text>
<text x="965.70" y="598.80" font-size="12" textLength="57.43" lengthAdjust="spacing" stroke="#161616" stroke-width="0.1">rajoitukset</text>
<text x="966.02" y="621.80" font-size="12" textLength="30.09" lengthAdjust="spacing" stroke="#161616" stroke-width="0.1">teoria</text>
<text x="377.84" y="490.60" font-size="14.6" font-weight="bold" textLength="78.50" lengthAdjust="spacing" stroke="#161616" stroke-width="0.1">ravitsemus</text>
<text x="262.99" y="421.70" font-size="12" textLength="57.54" lengthAdjust="spacing" stroke="#161616" stroke-width="0.1">aktiivisuus</text>
<text x="283.12" y="503.60" font-size="12" textLength="36.97" lengthAdjust="spacing" stroke="#161616" stroke-width="0.1">terveys</text>
<text x="286.87" y="599.65" font-size="12" textLength="37.44" lengthAdjust="spacing" stroke="#161616" stroke-width="0.1">ylläpito</text>
<text x="147.60" y="399.60" font-size="12" textLength="58.23" lengthAdjust="spacing" stroke="#161616" stroke-width="0.1">rehellisyys</text>
<text x="161.96" y="445.75" font-size="12" textLength="44.20" lengthAdjust="spacing" stroke="#161616" stroke-width="0.1">vaikutus</text>
<text x="61.17" y="388.80" font-size="12" textLength="32.41" lengthAdjust="spacing" stroke="#161616" stroke-width="0.1">sohva</text>
<text x="27.67" y="410.80" font-size="12" textLength="66.18" lengthAdjust="spacing" stroke="#161616" stroke-width="0.1">himoliikkuja</text>
<text x="63.30" y="434.80" font-size="12" textLength="44.19" lengthAdjust="spacing" stroke="#161616" stroke-width="0.1">opettelu</text>
<text x="55.79" y="457.80" font-size="12" textLength="51.66" lengthAdjust="spacing" stroke="#161616" stroke-width="0.1">kokemus</text>
<text x="173.69" y="480.80" font-size="12" textLength="55.72" lengthAdjust="spacing" stroke="#161616" stroke-width="0.1">krooninen</text>
<text x="182.92" y="503.80" font-size="12" textLength="46.03" lengthAdjust="spacing" stroke="#161616" stroke-width="0.1">tukihoito</text>
<text x="174.83" y="526.80" font-size="12" textLength="53.49" lengthAdjust="spacing" stroke="#161616" stroke-width="0.1">parantava</text>
<text x="119.79" y="577.20" font-size="12" textLength="109.94" lengthAdjust="spacing" stroke="#161616" stroke-width="0.1">laskennallinen tarve</text>
<text x="182.29" y="599.60" font-size="12" textLength="48.45" lengthAdjust="spacing" stroke="#161616" stroke-width="0.1">aito tarve</text>
<text x="153.51" y="622.60" font-size="11.8" font-weight="bold" textLength="77.32" lengthAdjust="spacing" stroke="#161616" stroke-width="0.1">RUOKAKIPPO</text>
<ellipse cx="546.5" cy="377" rx="37.8" ry="27.5" fill="#0a0a8c" stroke="#1a1a70" stroke-width="0.8"/>
<text x="516.53" y="383.7" font-size="17.5" font-weight="bold" fill="#fff" textLength="58.82">KOIRA</text>
</svg>
</body></html>
